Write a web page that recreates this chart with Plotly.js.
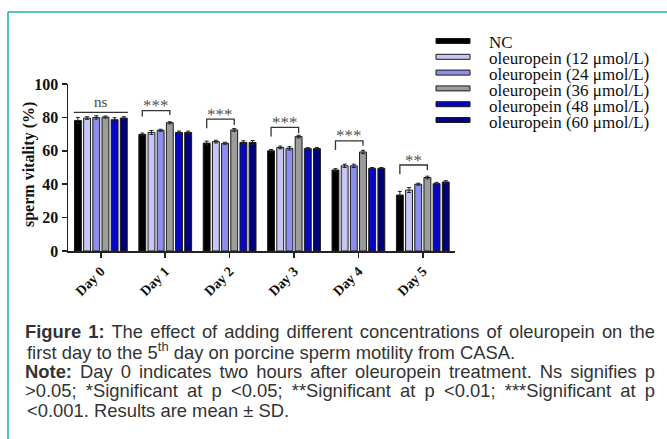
<!DOCTYPE html>
<html>
<head>
<meta charset="utf-8">
<script src="https://cdn.plot.ly/plotly-3.0.1.min.js"></script>
<style>
html,body{margin:0;padding:0;background:#fff;}
#chart{width:667px;height:439px;}
</style>
</head>
<body>
<div id="chart"></div>
<script>
// ---- data ----
const categories = ['Day 0', 'Day 1', 'Day 2', 'Day 3', 'Day 4', 'Day 5'];
const seriesNames = ['NC', 'oleuropein (12 μmol/L)', 'oleuropein (24 μmol/L)', 'oleuropein (36 μmol/L)', 'oleuropein (48 μmol/L)', 'oleuropein (60 μmol/L)'];
const nc    = [78.2, 69.8, 64.6, 60.0, 48.5, 33.5];
const ole12 = [79.6, 71.0, 65.5, 62.0, 51.0, 36.5];
const ole24 = [80.0, 72.3, 64.5, 61.5, 51.0, 40.0];
const ole36 = [80.2, 76.8, 72.5, 68.5, 59.3, 44.0];
const ole48 = [78.6, 71.0, 65.0, 61.3, 49.5, 40.3];
const ole60 = [79.6, 71.0, 65.0, 61.3, 49.5, 41.3];
const sdNc    = [1.8, 0.8, 1.2, 0.8, 0.8, 2.2];
const sd12    = [0.8, 1.2, 0.8, 0.8, 1.0, 1.5];
const sd24    = [1.0, 0.6, 0.6, 1.0, 1.0, 0.6];
const sd36    = [0.6, 0.6, 0.8, 0.8, 1.0, 0.8];
const sd48    = [1.2, 0.8, 1.0, 0.6, 0.5, 0.8];
const sd60    = [0.8, 0.8, 1.2, 0.6, 0.5, 0.8];
const sigLabels   = ['ns', '***', '***', '***', '***', '**'];
const bracketTop  = [83, 84, 79, 74, 66, 51.5];
const legLeftEnd  = [null, 80.5, 73.5, 68.5, 60.5, 46];
const legRightEnd = [null, 81.5, 75.4, 70.5, 63, 48.5];
const yTitle = 'sperm vitality (%)';
const captionLines = [
  '<b>Figure 1:</b> The effect of adding different concentrations of oleuropein on the',
  'first day to the 5<sup>th</sup> day on porcine sperm motility from CASA.',
  '<b>Note:</b> Day 0 indicates two hours after oleuropein treatment. Ns signifies p',
  '&gt;0.05; *Significant at p &lt;0.05; **Significant at p &lt;0.01; ***Significant at p',
  '&lt;0.001. Results are mean ± SD.'
];
const captionJustified = [true, false, true, true, false];

// ---- styling ----
const colors = ['#000000', '#c6c6f6', '#8e8eec', '#9c9c9c', '#0606c4', '#00007c'];
const values = [nc, ole12, ole24, ole36, ole48, ole60];
const errs = [sdNc, sd12, sd24, sd36, sd48, sd60];
const serif = 'Liberation Serif, Times New Roman, serif';
const sans = 'Liberation Sans, Arial, sans-serif';

const traces = values.map((v, i) => ({
  type: 'bar',
  name: seriesNames[i],
  x: categories,
  y: v,
  marker: {color: colors[i], line: {color: '#1a1a1a', width: 1}},
  error_y: {type: 'data', array: errs[i], visible: true, color: '#222', thickness: 1, width: 2},
  showlegend: false
}));

// plot area geometry in px
const L = 68, R = 212, T = 84, B = 188, W = 667, H = 439;
const PW = W - L - R, PH = H - T - B;
const px2x = p => (p - L) / PW;
const px2y = p => (H - B - p) / PH;

const bargap = 0.145, nSer = values.length;
const slot = (1 - bargap) / nSer;
const off = i => -(1 - bargap) / 2 + slot * (i + 0.5);

const shapes = [];
const annotations = [];
const lineCol = '#333';

categories.forEach((c, k) => {
  if (legLeftEnd[k] === null) {
    shapes.push({type: 'line', xref: 'x', yref: 'y', x0: k - 0.42, x1: k + 0.42, y0: bracketTop[k], y1: bracketTop[k], line: {color: lineCol, width: 1.3}});
    annotations.push({xref: 'x', yref: 'y', x: k, y: bracketTop[k], text: sigLabels[k], showarrow: false, yanchor: 'middle', yshift: 10, font: {family: serif, size: 15, color: '#444'}});
  } else {
    const xl = k + off(0), xr = k + off(3);
    shapes.push({type: 'path', xref: 'x', yref: 'y',
      path: `M ${xl} ${legLeftEnd[k]} L ${xl} ${bracketTop[k]} L ${xr} ${bracketTop[k]} L ${xr} ${legRightEnd[k]}`,
      line: {color: lineCol, width: 1.3}});
    annotations.push({xref: 'x', yref: 'y', x: (xl + xr) / 2, y: bracketTop[k], text: sigLabels[k], showarrow: false, yanchor: 'middle', yshift: 5, font: {family: serif, size: 17, color: '#555'}});
  }
});

// y axis title
annotations.push({xref: 'paper', yref: 'paper', x: px2x(29), y: px2y(165), text: yTitle, textangle: -90, showarrow: false,
  xanchor: 'center', yanchor: 'middle', font: {family: serif, size: 16, color: '#111', weight: 700}});

// manual legend
seriesNames.forEach((n, i) => {
  const cy = 41 + 15.8 * i;
  shapes.push({type: 'rect', xref: 'paper', yref: 'paper',
    x0: px2x(436), x1: px2x(470), y0: px2y(cy + 2.5), y1: px2y(cy - 2.5),
    fillcolor: colors[i], line: {color: '#1a1a1a', width: 1}});
  annotations.push({xref: 'paper', yref: 'paper', x: px2x(487), y: px2y(cy + 2), text: n, showarrow: false,
    xanchor: 'left', yanchor: 'middle', font: {family: serif, size: 17, color: '#111'}});
});

// frame
const teal = '#1fb3a2';
shapes.push({type: 'line', xref: 'paper', yref: 'paper', x0: px2x(8), x1: px2x(668), y0: px2y(12), y1: px2y(12), line: {color: teal, width: 1.6}});
shapes.push({type: 'line', xref: 'paper', yref: 'paper', x0: px2x(8), x1: px2x(8), y0: px2y(12), y1: px2y(440), line: {color: teal, width: 1.6}});

// caption
const capY = [331, 351, 371, 390.5, 410];
const capStart = annotations.length;
captionLines.forEach((t, i) => {
  annotations.push({xref: 'paper', yref: 'paper', x: px2x(25), y: px2y(capY[i]), text: t, showarrow: false,
    xanchor: 'left', yanchor: 'middle', font: {family: sans, size: 18.4, color: '#333'}});
});

const layout = {
  width: W, height: H,
  margin: {l: L, r: R, t: T, b: B, pad: 0},
  paper_bgcolor: '#fff', plot_bgcolor: '#fff',
  barmode: 'group', bargap: bargap, bargroupgap: 0.25,
  showlegend: false,
  xaxis: {
    type: 'category', range: [-0.51, 5.5],
    showline: true, linecolor: '#222', linewidth: 1.5,
    ticks: 'outside', ticklen: 5, tickcolor: '#222', tickwidth: 1.5,
    tickangle: -45, showgrid: false, zeroline: false,
    tickfont: {family: serif, size: 14, color: '#111', weight: 700}
  },
  yaxis: {
    range: [0, 100], tickvals: [0, 20, 40, 60, 80, 100],
    showline: true, linecolor: '#222', linewidth: 1.5,
    ticks: 'outside', ticklen: 5, tickcolor: '#222', tickwidth: 1.5,
    showgrid: false, zeroline: false,
    tickfont: {family: serif, size: 16, color: '#111', weight: 700}
  },
  shapes: shapes,
  annotations: annotations
};

Plotly.newPlot('chart', traces, layout, {displayModeBar: false, staticPlot: true}).then(gd => {
  // justify the caption lines that are justified in the original
  const right = 655, left = 25;
  const nodes = gd.querySelectorAll('.annotation');
  captionLines.forEach((t, i) => {
    if (!captionJustified[i]) return;
    const g = nodes[capStart + i];
    if (!g) return;
    const txt = g.querySelector('text');
    if (!txt) return;
    const r0 = txt.getBoundingClientRect();
    const spaces = (txt.textContent.match(/ /g) || []).length;
    const extra = (right - left) - r0.width;
    if (spaces > 0 && extra > 0) {
      txt.style.wordSpacing = (extra / spaces) + 'px';
      const r1 = txt.getBoundingClientRect();
      const dx = left - r1.left;
      const old = txt.getAttribute('transform') || '';
      txt.setAttribute('transform', 'translate(' + dx + ',0) ' + old);
    }
  });
});
</script>
</body>
</html>
